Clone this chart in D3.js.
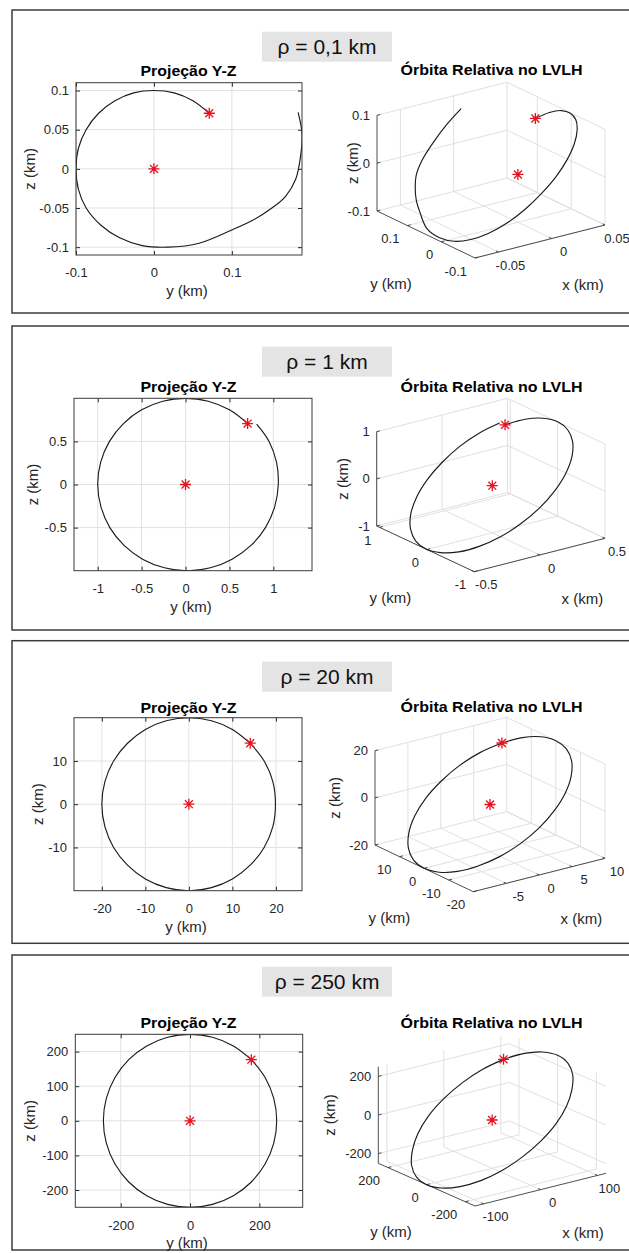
<!DOCTYPE html>
<html><head><meta charset="utf-8">
<script src="https://cdn.jsdelivr.net/npm/d3@7"></script>
<style>
html,body{margin:0;padding:0;background:#fff;}
svg{display:block;font-family:"Liberation Sans",Arial,Helvetica,sans-serif;}
</style></head><body>
<svg id="fig" width="629" height="1253"></svg>
<script>
// ---------------- DATA ----------------
const rhoLabels = ["ρ = 0,1 km", "ρ = 1 km", "ρ = 20 km", "ρ = 250 km"];
const title2D = "Projeção Y-Z";
const title3D = "Órbita Relativa no LVLH";

// Panel 1 (rho = 0,1 km) : relative orbit samples (km)
const p1Y = [0.071,0.05,0.026,0,-0.026,-0.05,-0.071,-0.087,-0.097,-0.1,-0.097,-0.087,-0.068,-0.044,-0.015,0.018,0.058,0.1,0.128,0.15,0.169,0.182,0.188,0.19,0.185];
const p1Z = [0.071,0.087,0.097,0.1,0.097,0.087,0.071,0.05,0.026,0,-0.026,-0.05,-0.072,-0.088,-0.098,-0.1,-0.095,-0.078,-0.065,-0.051,-0.035,-0.013,0.015,0.045,0.072];
const p1X = [0.0389,0.0454,0.049,0.0492,0.0461,0.0397,0.0304,0.0186,0.0052,-0.0093,-0.0237,-0.0371,-0.0489,-0.0582,-0.0646,-0.0678,-0.067,-0.0604,-0.0549,-0.0488,-0.0418,-0.032,-0.0196,-0.0059,0.0054];
const p1TicksY2D = [-0.1,0,0.1], p1TicksZ2D = [-0.1,-0.05,0,0.05,0.1];
const p1LimY2D = [-0.1,0.19], p1LimZ2D = [-0.11,0.11];
const p1TicksX3D = [-0.05,0,0.05], p1TicksY3D = [-0.1,0,0.1], p1TicksZ3D = [-0.1,0,0.1];
const p1LimX3D = [-0.072,0.05], p1LimY3D = [-0.1,0.19], p1LimZ3D = [-0.1,0.1];

// Panel 2 (rho = 1 km)
const p2Y = [0.707,0.5,0.259,0,-0.259,-0.5,-0.707,-0.866,-0.966,-1,-0.963,-0.862,-0.7,-0.49,-0.24,0.02,0.283,0.53,0.745,0.91,1.015,1.056,1.036,0.951,0.81];
const p2Z = [0.707,0.866,0.966,1,0.966,0.866,0.707,0.5,0.259,0,-0.259,-0.5,-0.707,-0.866,-0.966,-1,-0.966,-0.866,-0.707,-0.5,-0.259,0,0.259,0.5,0.7];
const p2X = [0.354,0.433,0.483,0.5,0.483,0.433,0.354,0.25,0.129,0,-0.129,-0.25,-0.354,-0.433,-0.483,-0.5,-0.483,-0.433,-0.354,-0.25,-0.129,0,0.129,0.25,0.35];
const p2TicksY2D = [-1,-0.5,0,0.5,1], p2TicksZ2D = [-0.5,0,0.5];
const p2LimY2D = [-1.27,1.44], p2LimZ2D = [-1,1];
const p2TicksX3D = [-0.5,0,0.5], p2TicksY3D = [-1,0,1], p2TicksZ3D = [-1,0,1];
const p2LimX3D = [-0.5,0.5], p2LimY3D = [-1,1.06], p2LimZ3D = [-1,1];

// Panel 3 (rho = 20 km)
const p3Y = [14.1,10,5.2,0,-5.2,-10,-14.1,-17.3,-19.3,-20,-19.3,-17.3,-14.1,-10,-5.2,0,5.2,10,14.1,17.3,19.3,19.9,19.3,17.3,14.1];
const p3Z = [14.1,17.3,19.3,20,19.3,17.3,14.1,10,5.2,0,-5.2,-10,-14.1,-17.3,-19.3,-20,-19.3,-17.3,-14.1,-10,-5.2,0,5.2,10,14.1];
const p3X = [7.07,8.66,9.66,10,9.66,8.66,7.07,5,2.59,0,-2.59,-5,-7.07,-8.66,-9.66,-10,-9.66,-8.66,-7.07,-5,-2.59,0,2.59,5,7.07];
const p3TicksY2D = [-20,-10,0,10,20], p3TicksZ2D = [-10,0,10];
const p3LimY2D = [-26.4,26], p3LimZ2D = [-20,20];
const p3TicksX3D = [-5,0,5,10], p3TicksY3D = [-20,-10,0,10], p3TicksZ3D = [-20,0,20];
const p3LimX3D = [-10,10], p3LimY3D = [-20,20], p3LimZ3D = [-20,20];

// Panel 4 (rho = 250 km)
const p4Y = [176.8,125,64.7,0,-64.7,-125,-176.8,-216.5,-241.5,-250,-241.5,-216.5,-176.8,-125,-64.7,0,64.7,125,176.8,216.5,241.5,250,241.5,216.5,176.8];
const p4Z = [176.8,216.5,241.5,250,241.5,216.5,176.8,125,64.7,0,-64.7,-125,-176.8,-216.5,-241.5,-250,-241.5,-216.5,-176.8,-125,-64.7,0,64.7,125,176.8];
const p4X = [80,99,111,115,111,99,80,57,30,0,-30,-57,-80,-99,-111,-115,-111,-99,-80,-57,-30,0,30,57,80];
const p4TicksY2D = [-200,0,200], p4TicksZ2D = [-200,-100,0,100,200];
const p4LimY2D = [-331,325], p4LimZ2D = [-250,250];
const p4TicksX3D = [-100,0,100], p4TicksY3D = [-200,0,200], p4TicksZ3D = [-200,0,200];
const p4LimX3D = [-115,115], p4LimY3D = [-250,250], p4LimZ3D = [-250,250];

// ---------------- LAYOUT (pixels) ----------------
const layout = [
  {frame:[10,313], rhoTop:31.7, box:{x0:76,x1:302,y0:82.7,y1:255}, t2:76, zl2:30,
   F:[475,258], ex:[130,-33], ey:[-98,-47], ez:[0,-95.7], t3:75, zl3:353},
  {frame:[326,630], rhoTop:346.7, box:{x0:74,x1:312,y0:398.3,y1:570.7}, t2:391.7, zl2:33,
   F:[474.3,571.7], ex:[130.7,-33.4], ey:[-97.6,-45.7], ez:[0,-94.3], t3:391.7, zl3:343},
  {frame:[640.7,943.3], rhoTop:661.7, box:{x0:74,x1:302,y0:717.7,y1:890.7}, t2:712.7, zl2:38,
   F:[473.3,891.7], ex:[131.7,-33.4], ey:[-98.3,-46.7], ez:[0,-94.3], t3:711.7, zl3:335},
  {frame:[955,1250], rhoTop:966.7, box:{x0:75.3,x1:302.7,y0:1034.3,y1:1207.3}, t2:1028.3, zl2:30,
   F:[475,1206], ex:[131,-32.7], ey:[-96.7,-42.7], ez:[0,-96.6], t3:1028.3, zl3:330}
];

const panelData = [
  {X:p1X,Y:p1Y,Z:p1Z,tY2:p1TicksY2D,tZ2:p1TicksZ2D,lY2:p1LimY2D,lZ2:p1LimZ2D,tX3:p1TicksX3D,tY3:p1TicksY3D,tZ3:p1TicksZ3D,lX3:p1LimX3D,lY3:p1LimY3D,lZ3:p1LimZ3D},
  {X:p2X,Y:p2Y,Z:p2Z,tY2:p2TicksY2D,tZ2:p2TicksZ2D,lY2:p2LimY2D,lZ2:p2LimZ2D,tX3:p2TicksX3D,tY3:p2TicksY3D,tZ3:p2TicksZ3D,lX3:p2LimX3D,lY3:p2LimY3D,lZ3:p2LimZ3D},
  {X:p3X,Y:p3Y,Z:p3Z,tY2:p3TicksY2D,tZ2:p3TicksZ2D,lY2:p3LimY2D,lZ2:p3LimZ2D,tX3:p3TicksX3D,tY3:p3TicksY3D,tZ3:p3TicksZ3D,lX3:p3LimX3D,lY3:p3LimY3D,lZ3:p3LimZ3D},
  {X:p4X,Y:p4Y,Z:p4Z,tY2:p4TicksY2D,tZ2:p4TicksZ2D,lY2:p4LimY2D,lZ2:p4LimZ2D,tX3:p4TicksX3D,tY3:p4TicksY3D,tZ3:p4TicksZ3D,lX3:p4LimX3D,lY3:p4LimY3D,lZ3:p4LimZ3D}
];

// ---------------- DRAW ----------------
const svg = d3.select("#fig");
const fmt = d => String(d);
const TXT = "#262626", GRID = "#e2e2e2", GRID3 = "#dcdcdc", AX = "#3a3a3a", RED = "#e8101e", CURVE = "#1c1c1c";

function star(g, p, r) {
  const k = r * 0.72;
  g.append("path")
    .attr("d", `M${p[0]-r},${p[1]}H${p[0]+r}M${p[0]},${p[1]-r}V${p[1]+r}M${p[0]-k},${p[1]-k}L${p[0]+k},${p[1]+k}M${p[0]-k},${p[1]+k}L${p[0]+k},${p[1]-k}`)
    .attr("stroke", RED).attr("stroke-width", 1.3).attr("fill", "none");
}

function draw2D(g, L, D, idx) {
  const b = L.box;
  const xs = d3.scaleLinear().domain(D.lY2).range([b.x0, b.x1]);
  const ys = d3.scaleLinear().domain(D.lZ2).range([b.y1, b.y0]);
  const gg = g.append("g");
  gg.append("g").selectAll("line").data(D.tY2).join("line")
    .attr("x1", d => xs(d)).attr("x2", d => xs(d)).attr("y1", b.y0).attr("y2", b.y1)
    .attr("stroke", GRID).attr("stroke-width", 1);
  gg.append("g").selectAll("line").data(D.tZ2).join("line")
    .attr("y1", d => ys(d)).attr("y2", d => ys(d)).attr("x1", b.x0).attr("x2", b.x1)
    .attr("stroke", GRID).attr("stroke-width", 1);
  const cid = "clip2d" + idx;
  gg.append("clipPath").attr("id", cid).append("rect")
    .attr("x", b.x0).attr("y", b.y0).attr("width", b.x1 - b.x0).attr("height", b.y1 - b.y0);
  const pts = D.Y.map((v, i) => [v, D.Z[i]]);
  const line = d3.line().x(d => xs(d[0])).y(d => ys(d[1])).curve(d3.curveCatmullRom);
  gg.append("path").attr("d", line(pts)).attr("fill", "none").attr("stroke", CURVE)
    .attr("stroke-width", 1.15).attr("clip-path", `url(#${cid})`);
  star(gg, [xs(pts[0][0]), ys(pts[0][1])], 5.5);
  star(gg, [xs(0), ys(0)], 5.5);
  // axes
  const style = s => s.attr("font-family", null).attr("font-size", 13).attr("color", TXT)
    .call(a => a.select(".domain").remove());
  gg.append("g").attr("transform", `translate(0,${b.y1})`)
    .call(d3.axisBottom(xs).tickValues(D.tY2).tickFormat(fmt).tickSizeInner(-4).tickSizeOuter(0).tickPadding(13)).call(style);
  gg.append("g").attr("transform", `translate(${b.x0},0)`)
    .call(d3.axisLeft(ys).tickValues(D.tZ2).tickFormat(fmt).tickSizeInner(-4).tickSizeOuter(0).tickPadding(7)).call(style);
  gg.append("g").attr("transform", `translate(0,${b.y0})`)
    .call(d3.axisTop(xs).tickValues(D.tY2).tickFormat("").tickSizeInner(-4).tickSizeOuter(0)).call(style);
  gg.append("g").attr("transform", `translate(${b.x1},0)`)
    .call(d3.axisRight(ys).tickValues(D.tZ2).tickFormat("").tickSizeInner(-4).tickSizeOuter(0)).call(style);
  gg.append("rect").attr("x", b.x0).attr("y", b.y0).attr("width", b.x1 - b.x0).attr("height", b.y1 - b.y0)
    .attr("fill", "none").attr("stroke", AX).attr("stroke-width", 1);
  // labels
  const cx = (b.x0 + b.x1) / 2;
  gg.append("text").attr("x", 188.5).attr("y", L.t2).attr("text-anchor", "middle")
    .attr("font-size", 15).attr("font-weight", "bold").attr("fill", "#000")
    .attr("textLength", 96).attr("lengthAdjust", "spacingAndGlyphs").text(title2D);
  gg.append("text").attr("x", cx - 2).attr("y", b.y1 + 41).attr("text-anchor", "middle")
    .attr("font-size", 15).attr("fill", TXT).text("y (km)");
  gg.append("text").attr("transform", `translate(${L.zl2},${(b.y0 + b.y1) / 2}) rotate(-90)`)
    .attr("text-anchor", "middle").attr("dy", "0.35em").attr("font-size", 15).attr("fill", TXT).text("z (km)");
}

function draw3D(g, L, D) {
  const sx = d3.scaleLinear().domain(D.lX3).range([0, 1]);
  const sy = d3.scaleLinear().domain(D.lY3).range([0, 1]);
  const sz = d3.scaleLinear().domain(D.lZ3).range([0, 1]);
  const pr = (x, y, z) => {
    const a = sx(x), b = sy(y), c = sz(z);
    return [L.F[0] + a * L.ex[0] + b * L.ey[0] + c * L.ez[0],
            L.F[1] + a * L.ex[1] + b * L.ey[1] + c * L.ez[1]];
  };
  const [x0, x1] = D.lX3, [y0, y1] = D.lY3, [z0, z1] = D.lZ3;
  const gg = g.append("g");
  const grid = [];
  D.tX3.forEach(t => { grid.push([[t, y0, z0], [t, y1, z0]]); grid.push([[t, y1, z0], [t, y1, z1]]); });
  D.tY3.forEach(t => { grid.push([[x0, t, z0], [x1, t, z0]]); grid.push([[x1, t, z0], [x1, t, z1]]); });
  D.tZ3.forEach(t => { grid.push([[x0, y1, t], [x1, y1, t]]); grid.push([[x1, y0, t], [x1, y1, t]]); });
  gg.append("g").selectAll("line").data(grid).join("line")
    .attr("x1", d => pr(...d[0])[0]).attr("y1", d => pr(...d[0])[1])
    .attr("x2", d => pr(...d[1])[0]).attr("y2", d => pr(...d[1])[1])
    .attr("stroke", GRID3).attr("stroke-width", 0.9);
  // axes lines
  const axes = [[[x0, y1, z0], [x0, y1, z1]], [[x0, y1, z0], [x0, y0, z0]], [[x0, y0, z0], [x1, y0, z0]]];
  const tl = 0.025;
  D.tZ3.forEach(t => axes.push([[x0, y1, t], [x0 + tl * (x1 - x0), y1, t]]));
  D.tY3.forEach(t => axes.push([[x0, t, z0], [x0 + tl * (x1 - x0), t, z0]]));
  D.tX3.forEach(t => axes.push([[t, y0, z0], [t, y0 + tl * (y1 - y0), z0]]));
  gg.append("g").selectAll("line").data(axes).join("line")
    .attr("x1", d => pr(...d[0])[0]).attr("y1", d => pr(...d[0])[1])
    .attr("x2", d => pr(...d[1])[0]).attr("y2", d => pr(...d[1])[1])
    .attr("stroke", AX).attr("stroke-width", 0.9);
  // curve
  const pts = D.X.map((v, i) => pr(v, D.Y[i], D.Z[i]));
  gg.append("path").attr("d", d3.line().curve(d3.curveCatmullRom)(pts))
    .attr("fill", "none").attr("stroke", CURVE).attr("stroke-width", 1.15);
  star(gg, pts[0], 5.5);
  star(gg, pr(0, 0, 0), 5.5);
  // tick labels
  const lab = gg.append("g").attr("font-size", 13).attr("fill", TXT);
  D.tZ3.forEach(t => { const p = pr(x0, y1, t);
    lab.append("text").attr("x", p[0] - 7).attr("y", p[1]).attr("dy", "0.35em").attr("text-anchor", "end").text(fmt(t)); });
  D.tY3.forEach(t => { const p = pr(x0, t, z0);
    lab.append("text").attr("x", p[0] - 8).attr("y", p[1] + 17.5).attr("text-anchor", "end").text(fmt(t)); });
  D.tX3.forEach(t => { const p = pr(t, y0, z0);
    lab.append("text").attr("x", p[0] + 12).attr("y", p[1] + 17.5).attr("text-anchor", "middle").text(fmt(t)); });
  // axis labels
  const F = pr(x0, y0, z0), zm = pr(x0, y1, (z0 + z1) / 2);
  gg.append("text").attr("x", F[0] - 84).attr("y", F[1] + 31).attr("text-anchor", "middle")
    .attr("font-size", 15).attr("fill", TXT).text("y (km)");
  gg.append("text").attr("x", F[0] + 108).attr("y", F[1] + 32).attr("text-anchor", "middle")
    .attr("font-size", 15).attr("fill", TXT).text("x (km)");
  gg.append("text").attr("transform", `translate(${L.zl3},${zm[1]}) rotate(-90)`)
    .attr("text-anchor", "middle").attr("dy", "0.35em").attr("font-size", 15).attr("fill", TXT).text("z (km)");
  gg.append("text").attr("x", 491.5).attr("y", L.t3).attr("text-anchor", "middle")
    .attr("font-size", 15).attr("font-weight", "bold").attr("fill", "#000")
    .attr("textLength", 182).attr("lengthAdjust", "spacingAndGlyphs").text(title3D);
}

layout.forEach((L, i) => {
  const D = panelData[i];
  const g = svg.append("g");
  g.append("rect").attr("x", 12).attr("y", L.frame[0]).attr("width", 700).attr("height", L.frame[1] - L.frame[0])
    .attr("fill", "none").attr("stroke", "#3c3c3c").attr("stroke-width", 1.5);
  g.append("rect").attr("x", 262).attr("y", L.rhoTop).attr("width", 130).attr("height", 30).attr("fill", "#e4e4e4");
  g.append("text").attr("x", 327).attr("y", L.rhoTop + 22.5).attr("text-anchor", "middle")
    .attr("font-size", 21).attr("fill", "#111").text(rhoLabels[i]);
  draw2D(g, L, D, i);
  draw3D(g, L, D);
});
</script></body></html>
